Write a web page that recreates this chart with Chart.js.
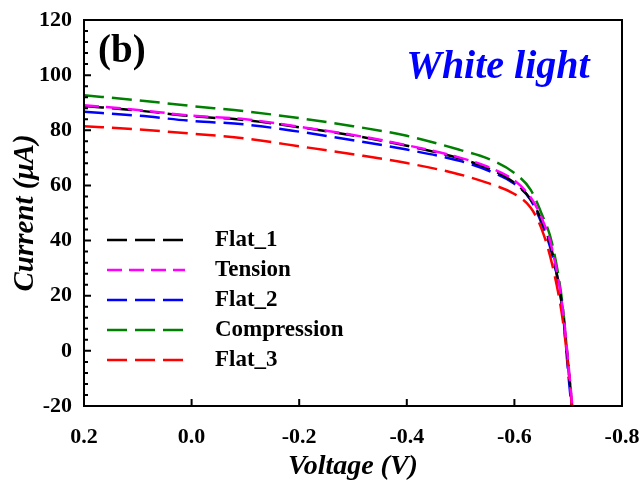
<!DOCTYPE html>
<html>
<head>
<meta charset="utf-8">
<script src="https://cdn.jsdelivr.net/npm/chart.js@4.4.1/dist/chart.umd.min.js"></script>
<style>
  html, body { margin: 0; padding: 0; background: #fff; }
  #wrap { width: 641px; height: 484px; }
</style>
</head>
<body>
<div id="wrap"><canvas id="chart" width="641" height="484"></canvas></div>
<script>
// I-V data (voltage in V, current in uA)
const voltage = [0.2, 0.1, 0.0, -0.1, -0.2, -0.3, -0.4, -0.5, -0.55, -0.6, -0.63, -0.65, -0.67, -0.69, -0.70, -0.71];
const flat1 = [88.8, 87.2, 85.1, 83.7, 81.1, 78.1, 74.4, 69.7, 66.3, 61.0, 55.0, 47.5, 36.0, 14.0, -5.0, -26.0];
const tension = [89.1, 87.4, 85.3, 84.0, 81.3, 78.3, 74.6, 70.0, 66.8, 61.8, 55.7, 48.5, 37.0, 15.0, -4.0, -25.0];
const flat2 = [86.7, 85.3, 83.4, 82.1, 79.5, 76.4, 73.0, 68.8, 65.5, 60.6, 54.8, 46.5, 35.0, 14.0, -8.0, -28.0];
const compression = [92.7, 90.9, 88.8, 86.9, 84.4, 81.5, 78.0, 72.8, 69.8, 64.5, 58.5, 50.0, 39.0, 16.0, -5.0, -26.0];
const flat3 = [81.5, 80.3, 78.8, 77.0, 74.2, 71.3, 68.1, 63.9, 60.9, 56.9, 52.0, 44.5, 31.5, 11.0, -6.0, -27.0];

const seriesNames = ['Flat_1', 'Tension', 'Flat_2', 'Compression', 'Flat_3'];
const seriesColors = ['#000000', '#ff00ff', '#0000ff', '#008000', '#ff0000'];
const xTicks = [0.2, 0.0, -0.2, -0.4, -0.6, -0.8];
const yTicks = [-20, 0, 20, 40, 60, 80, 100, 120];

const SERIF = '"Liberation Serif", "Times New Roman", serif';

function toPoints(ys) {
    return voltage.map((v, i) => ({ x: v, y: ys[i] }));
}

const allSeries = [flat1, tension, flat2, compression, flat3];
const datasets = allSeries.map((ys, i) => ({
    label: seriesNames[i],
    data: toPoints(ys),
    borderColor: seriesColors[i],
    borderWidth: 2.5,
    borderDash: i === 1 ? [15, 7] : [20, 8],
    pointRadius: 0,
    fill: false,
    cubicInterpolationMode: 'monotone',
    order: (i === 1 || i === 4) ? 0 : 1
}));

// frame, inward ticks, legend and labels
const decor = {
    id: 'decor',
    afterDraw(chart) {
        const c = chart.ctx;
        const a = chart.chartArea;
        const xs = chart.scales.x, ys = chart.scales.y;
        c.save();
        c.strokeStyle = '#000';
        c.lineWidth = 2;
        c.strokeRect(a.left, a.top, a.right - a.left, a.bottom - a.top);

        c.beginPath();
        xTicks.forEach(v => {
            const px = xs.getPixelForValue(v);
            c.moveTo(px, a.bottom);
            c.lineTo(px, a.bottom - 7);
        });
        for (let v = -20; v <= 120; v += 4) {
            const py = ys.getPixelForValue(v);
            c.moveTo(a.left, py);
            c.lineTo(a.left + ((v + 20) % 20 === 0 ? 7 : 4), py);
        }
        c.stroke();

        // legend inside plot
        chart.data.datasets.forEach((ds, i) => {
            const y = 240 + i * 30;
            c.beginPath();
            c.strokeStyle = ds.borderColor;
            c.lineWidth = 2.5;
            c.setLineDash(ds.borderDash);
            c.moveTo(107, y);
            c.lineTo(185, y);
            c.stroke();
            c.setLineDash([]);
            c.fillStyle = '#000';
            c.font = 'bold 23px ' + SERIF;
            c.textBaseline = 'middle';
            c.textAlign = 'left';
            c.fillText(ds.label, 215, y);
        });

        c.fillStyle = '#000';
        c.font = 'bold 39px ' + SERIF;
        c.textBaseline = 'alphabetic';
        c.fillText('(b)', 98, 62);

        c.fillStyle = '#0000ff';
        c.font = 'italic bold 40px ' + SERIF;
        c.textAlign = 'center';
        c.fillText('White light', 498, 78);
        c.restore();
    }
};

function noPad(s) {
    s.paddingLeft = 0; s.paddingRight = 0;
    s.paddingTop = 0; s.paddingBottom = 0;
}

const ctx = document.getElementById('chart').getContext('2d');
const chart = new Chart(ctx, {
    type: 'line',
    data: { datasets: datasets },
    plugins: [decor],
    options: {
        responsive: false,
        animation: false,
        layout: { padding: { top: 20, right: 19, left: 0, bottom: 0 } },
        plugins: {
            legend: { display: false },
            tooltip: { enabled: false }
        },
        scales: {
            x: {
                type: 'linear',
                reverse: true,
                min: -0.8,
                max: 0.2,
                afterFit: s => { s.height = 78; noPad(s); },
                afterBuildTicks: s => { s.ticks = xTicks.map(v => ({ value: v })); },
                grid: { display: false, drawTicks: false },
                border: { display: false },
                ticks: {
                    color: '#000',
                    padding: 18,
                    maxRotation: 0,
                    font: { family: SERIF, size: 22, weight: 'bold' },
                    callback: v => v.toFixed(1)
                },
                title: {
                    display: true,
                    text: 'Voltage (V)',
                    color: '#000',
                    padding: { top: 0, bottom: 0 },
                    font: { family: SERIF, size: 28, weight: 'bold', style: 'italic' }
                }
            },
            y: {
                min: -20,
                max: 120,
                afterFit: s => { s.width = 84; noPad(s); },
                afterBuildTicks: s => { s.ticks = yTicks.map(v => ({ value: v })); },
                grid: { display: false, drawTicks: false },
                border: { display: false },
                ticks: {
                    color: '#000',
                    padding: 12,
                    font: { family: SERIF, size: 22, weight: 'bold' }
                },
                title: {
                    display: true,
                    text: 'Current (\u03bcA)',
                    color: '#000',
                    padding: { top: 8, bottom: 0 },
                    font: { family: SERIF, size: 29, weight: 'bold', style: 'italic' }
                }
            }
        }
    }
});
</script>
</body>
</html>
